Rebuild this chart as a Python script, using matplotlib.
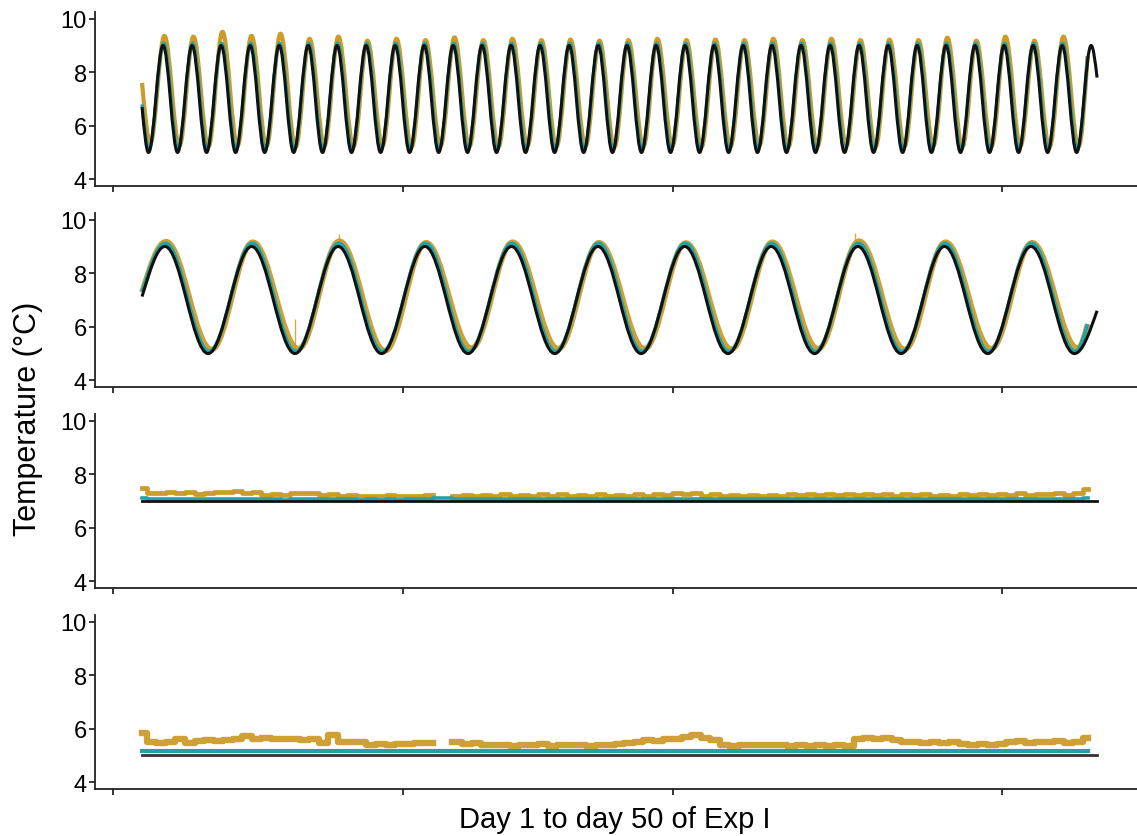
import numpy as np
import matplotlib
matplotlib.use('Agg')
import matplotlib.pyplot as plt
from matplotlib.path import Path
from matplotlib.patches import PathPatch

plt.rcParams['font.family'] = ['Liberation Sans', 'DejaVu Sans']

GOLD = '#C9961F'
CYAN = '#1FA3AB'
BLACK = '#111111'

# x is in days, 0 = first set point, 50 = last one
x_ticks = [-1.52, 13.66, 27.80, 45.03]
y_ticks = [4, 6, 8, 10]

# ---- panel 1: fast cycle ----
p1_start = (0.0, 6.7)
p1_end = (50.0, 7.8)
p1_troughs = [0.34, 1.86, 3.38, 4.90, 6.42, 7.94, 9.45, 10.97, 12.49, 14.01, 15.53,
              17.04, 18.56, 20.08, 21.60, 23.12, 24.63, 26.15, 27.67, 29.19, 30.71,
              32.22, 33.74, 35.26, 36.78, 38.30, 39.82, 41.33, 42.85, 44.37, 45.89,
              47.41, 48.93]
p1_peaks = [1.10, 2.62, 4.14, 5.66, 7.18, 8.70, 10.21, 11.73, 13.25, 14.77, 16.29,
            17.80, 19.32, 20.84, 22.36, 23.88, 25.39, 26.91, 28.43, 29.95, 31.47,
            32.98, 34.50, 36.02, 37.54, 39.06, 40.58, 42.09, 43.61, 45.13, 46.65,
            48.17, 49.69]
p1_set_low, p1_set_high = 5.0, 9.0
p1_cyan_low, p1_cyan_high = 5.12, 9.08
p1_gold_peak = [9.36, 9.33, 9.51, 9.36, 9.44, 9.25, 9.33, 9.18, 9.25, 9.20, 9.30,
                9.20, 9.25, 9.20, 9.22, 9.18, 9.20, 9.25, 9.20, 9.22, 9.20, 9.25,
                9.20, 9.25, 9.20, 9.22, 9.20, 9.29, 9.18, 9.33, 9.18, 9.33, 9.25]
p1_gold_trough = [5.35, 5.25, 5.22, 5.25, 5.24, 5.20, 5.25, 5.22, 5.24, 5.20, 5.25,
                  5.22, 5.20, 5.25, 5.22, 5.24, 5.20, 5.22, 5.25, 5.20, 5.22, 5.25,
                  5.20, 5.22, 5.25, 5.20, 5.22, 5.25, 5.20, 5.22, 5.25, 5.20, 5.22]
p1_meas_start = (0.0, 6.8)
p1_gold_start = (0.0, 7.6)
p1_meas_end = (49.5, 8.6)

# ---- panel 2: slow cycle ----
p2_start = (0.0, 7.13)
p2_end = (50.0, 6.6)
p2_peaks = [1.20, 5.74, 10.27, 14.81, 19.34, 23.87, 28.41, 32.94, 37.48, 42.01, 46.54]
p2_troughs = [3.46, 8.01, 12.54, 17.07, 21.61, 26.13, 30.68, 35.21, 39.74, 44.28, 48.81]
p2_set_low, p2_set_high = 5.0, 9.0
p2_cyan_low, p2_cyan_high = 5.08, 9.12
p2_gold_peak = [9.18, 9.16, 9.20, 9.14, 9.16, 9.14, 9.13, 9.16, 9.20, 9.16, 9.14]
p2_gold_trough = [5.15, 5.18, 5.10, 5.20, 5.18, 5.18, 5.16, 5.18, 5.15, 5.18, 5.20]
p2_meas_start = (0.0, 7.3)
p2_meas_end = (49.5, 6.1)
p2_spike_t = [8.0, 10.3, 37.35]
p2_spike_lo = [5.1, 9.0, 9.0]
p2_spike_hi = [6.3, 9.45, 9.5]

# ---- panels 3 and 4: constant set points ----
flat_t = [0.0, 50.0]
p3_set = [7.0, 7.0]
p4_set = [5.0, 5.0]

half_days = np.arange(0, 50, 0.5)
p3_gold = [7.50, 7.28, 7.31, 7.33, 7.30, 7.34, 7.25, 7.30, 7.35, 7.33, 7.36, 7.30,
           7.34, 7.22, 7.25, 7.22, 7.31, 7.28, 7.30, 7.22, 7.26, 7.19, 7.24, 7.18,
           7.20, 7.18, 7.22, 7.18, 7.20, 7.18, 7.24, np.nan, np.nan, 7.19, 7.24, 7.18,
           7.24, 7.19, 7.25, 7.19, 7.24, 7.19, 7.25, 7.19, 7.25, 7.19, 7.24, 7.19,
           7.25, 7.19, 7.24, 7.19, 7.25, 7.20, 7.26, 7.22, 7.28, 7.27, 7.28, 7.20,
           7.26, 7.20, 7.24, 7.19, 7.23, 7.19, 7.24, 7.19, 7.25, 7.24, 7.26, 7.23,
           7.27, 7.22, 7.26, 7.23, 7.27, 7.22, 7.26, 7.20, 7.26, 7.21, 7.27, 7.20,
           7.24, 7.20, 7.25, 7.22, 7.27, 7.22, 7.25, 7.24, 7.28, 7.24, 7.27, 7.25,
           7.28, 7.24, 7.30, 7.45]
p3_cyan = [7.10, 7.08, 7.07, 7.08, 7.06, 7.07, 7.06, 7.08, 7.07, 7.06, 7.07, 7.06,
           7.07, 7.06, 7.06, 7.05, 7.07, 7.06, 7.07, 7.06, 7.07, 7.06, 7.06, 7.05,
           7.06, 7.05, 7.06, 7.05, 7.07, 7.06, 7.08, 7.10, 7.10, 7.09, 7.08, 7.06,
           7.07, 7.06, 7.07, 7.06, 7.07, 7.06, 7.07, 7.06, 7.07, 7.06, 7.07, 7.06,
           7.07, 7.06, 7.07, 7.06, 7.07, 7.06, 7.07, 7.06, 7.08, 7.07, 7.08, 7.06,
           7.07, 7.06, 7.07, 7.06, 7.07, 7.06, 7.07, 7.06, 7.07, 7.06, 7.07, 7.06,
           7.07, 7.06, 7.07, 7.06, 7.07, 7.06, 7.07, 7.06, 7.07, 7.06, 7.07, 7.06,
           7.07, 7.06, 7.07, 7.06, 7.07, 7.06, 7.08, 7.07, 7.08, 7.07, 7.08, 7.07,
           7.08, 7.08, 7.09, 7.12]
p4_gold = [5.85, 5.50, 5.48, 5.52, 5.63, 5.46, 5.55, 5.58, 5.54, 5.57, 5.60, 5.74,
           5.62, 5.64, 5.60, 5.63, 5.60, 5.57, 5.62, 5.45, 5.78, 5.52, 5.49, 5.52,
           5.41, 5.43, 5.40, 5.44, 5.42, 5.45, 5.47, np.nan, np.nan, 5.50, 5.43, 5.46,
           5.40, 5.38, 5.41, 5.37, 5.40, 5.38, 5.42, 5.37, 5.40, 5.38, 5.41, 5.37,
           5.40, 5.39, 5.42, 5.45, 5.52, 5.58, 5.55, 5.62, 5.60, 5.68, 5.78, 5.66,
           5.58, 5.40, 5.37, 5.40, 5.38, 5.41, 5.38, 5.40, 5.37, 5.39, 5.36, 5.38,
           5.36, 5.39, 5.37, 5.62, 5.64, 5.60, 5.65, 5.58, 5.50, 5.52, 5.48, 5.52,
           5.47, 5.50, 5.42, 5.40, 5.43, 5.40, 5.42, 5.50, 5.53, 5.48, 5.52, 5.49,
           5.53, 5.48, 5.52, 5.66]
p4_cyan_t = [0.0, 49.5]
p4_cyan = [5.16, 5.16]


def cycle_path(start, end, extremes):
    # smooth curve through read turning points: flat tangents at each extreme
    k = 0.3642
    pts = [start] + extremes + [end]
    verts = [pts[0]]
    codes = [Path.MOVETO]
    n = len(pts)
    for i in range(n - 1):
        (ta, ya), (tb, yb) = pts[i], pts[i + 1]
        dt = tb - ta
        if i == 0:
            c1 = (ta + dt / 3, ya + (yb - ya) / 2)
        else:
            c1 = (ta + k * dt, ya)
        if i == n - 2:
            c2 = (tb - dt / 3, yb - (yb - ya) / 2)
        else:
            c2 = (tb - k * dt, yb)
        verts += [c1, c2, (tb, yb)]
        codes += [Path.CURVE4] * 3
    return Path(verts, codes)


def turning_points(t_low, v_low, t_high, v_high, shift_low=0.0, shift_high=0.0, t_max=None):
    pts = [(t + shift_low, v) for t, v in zip(t_low, v_low)]
    pts += [(t + shift_high, v) for t, v in zip(t_high, v_high)]
    pts.sort()
    if t_max is not None:
        pts = [p for p in pts if p[0] < t_max]
    return pts


def draw_cycle(ax, path, color, lw, alpha=1.0, z=2):
    ax.add_patch(PathPatch(path, facecolor='none', edgecolor=color, lw=lw,
                           alpha=alpha, capstyle='butt', joinstyle='round', zorder=z))


fig = plt.figure(figsize=(11.37, 8.37), dpi=100)
bottoms = [0.7766, 0.5364, 0.2963, 0.0562]
axes = [fig.add_axes([0.0836, b, 0.9164, 0.2079]) for b in bottoms]

# panel 1
ax = axes[0]
n1 = len(p1_peaks)
gold1 = turning_points(p1_troughs, p1_gold_trough, p1_peaks, p1_gold_peak, 0.10, 0.07, 49.4)
cyan1 = turning_points(p1_troughs, [p1_cyan_low] * n1, p1_peaks, [p1_cyan_high] * n1, 0.03, 0.03, 49.4)
set1 = turning_points(p1_troughs, [p1_set_low] * n1, p1_peaks, [p1_set_high] * n1)
draw_cycle(ax, cycle_path(p1_gold_start, p1_meas_end, gold1), GOLD, 3.0, 0.95, 2)
draw_cycle(ax, cycle_path(p1_meas_start, p1_meas_end, cyan1), CYAN, 2.4, 1.0, 3)
draw_cycle(ax, cycle_path(p1_start, p1_end, set1), BLACK, 2.2, 1.0, 4)

# panel 2
ax = axes[1]
n2 = len(p2_peaks)
gold2 = turning_points(p2_troughs, p2_gold_trough, p2_peaks, p2_gold_peak, 0.18, 0.06, 49.4)
cyan2 = turning_points(p2_troughs, [p2_cyan_low] * n2, p2_peaks, [p2_cyan_high] * n2, 0.05, 0.03, 49.4)
set2 = turning_points(p2_troughs, [p2_set_low] * n2, p2_peaks, [p2_set_high] * n2)
draw_cycle(ax, cycle_path(p2_meas_start, p2_meas_end, gold2), GOLD, 4.0, 0.9, 2)
draw_cycle(ax, cycle_path(p2_meas_start, p2_meas_end, cyan2), CYAN, 2.6, 1.0, 3)
draw_cycle(ax, cycle_path(p2_start, p2_end, set2), BLACK, 2.2, 1.0, 4)
ax.vlines(p2_spike_t, p2_spike_lo, p2_spike_hi, color=GOLD, lw=1.0, alpha=0.8, zorder=2)

# panel 3
ax = axes[2]
ax.plot(half_days, p3_gold, color=GOLD, lw=3.4, drawstyle='steps-mid', alpha=0.95, zorder=2)
ax.plot(half_days, p3_cyan, color=CYAN, lw=2.6, drawstyle='steps-mid', zorder=3)
ax.plot(flat_t, p3_set, color=BLACK, lw=2.0, zorder=4)

# panel 4
ax = axes[3]
ax.plot(half_days, p4_gold, color=GOLD, lw=4.6, drawstyle='steps-mid', alpha=0.9, zorder=2)
ax.plot(p4_cyan_t, p4_cyan, color=CYAN, lw=3.0, zorder=3)
ax.plot(flat_t, p4_set, color='#333333', lw=2.0, zorder=4)

for ax in axes:
    ax.set_xlim(-2.46, 52.09)
    ax.set_ylim(3.75, 10.25)
    ax.set_yticks(y_ticks)
    ax.set_xticks(x_ticks)
    ax.set_xticklabels([])
    ax.tick_params(axis='y', labelsize=17, length=4, width=1.1, pad=2, colors='black')
    ax.tick_params(axis='x', length=4, width=1.1)
    for side in ['top', 'right']:
        ax.spines[side].set_visible(False)
    for side in ['left', 'bottom']:
        ax.spines[side].set_linewidth(1.3)
        ax.spines[side].set_color('#222222')
    ax.patch.set_alpha(0)

fig.text(0.025, 0.500, 'Temperature (°C)', rotation=90, ha='center', va='center', fontsize=22)
fig.text(0.541, 0.020, 'Day 1 to day 50 of Exp I', ha='center', va='center', fontsize=21)

fig.savefig('out.png', dpi=100)
